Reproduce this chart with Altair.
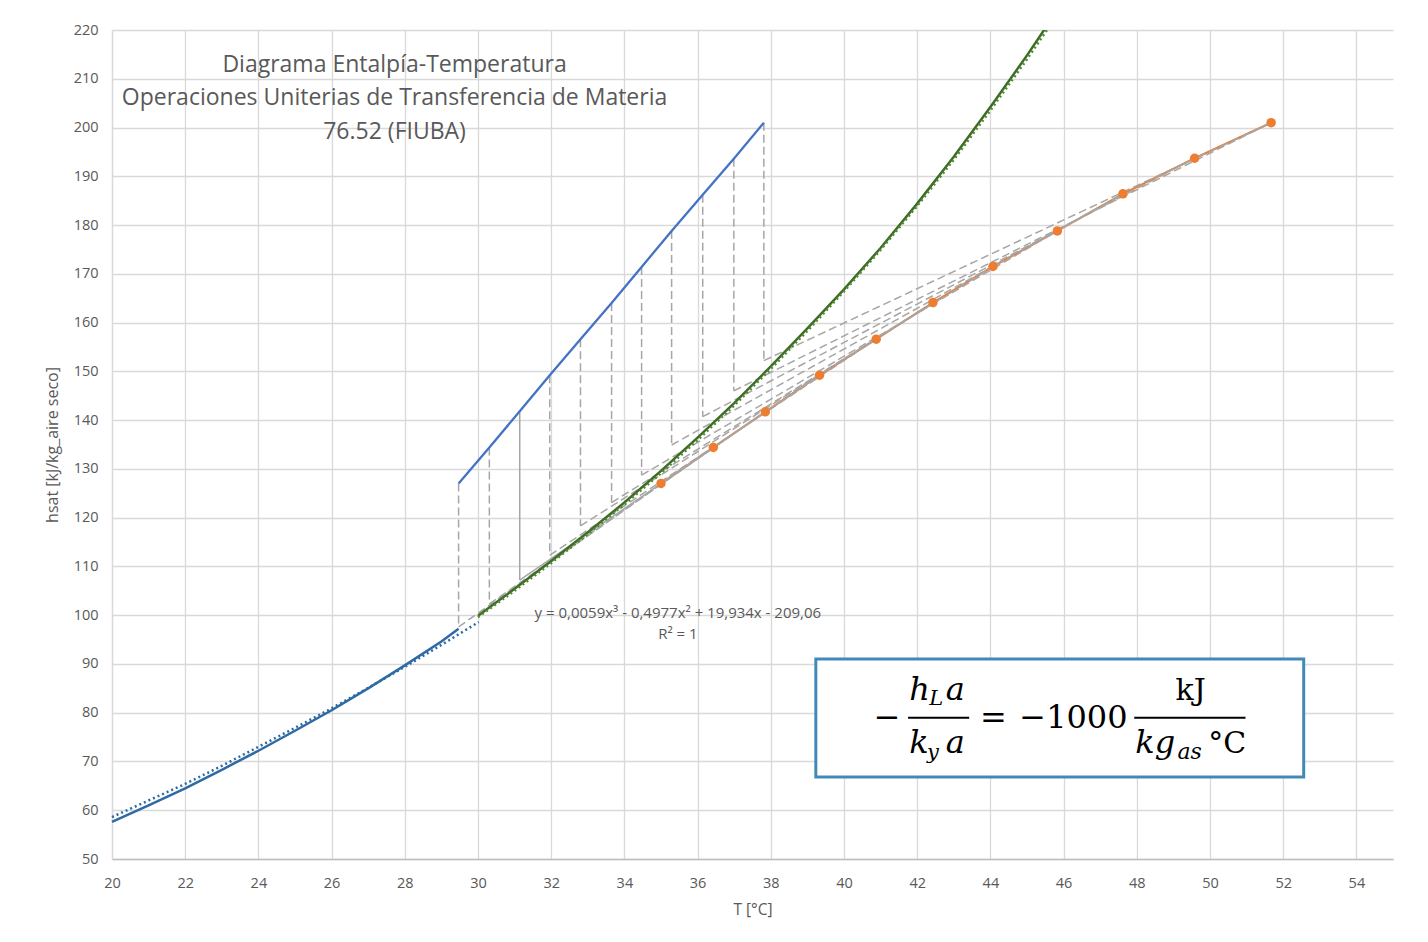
import altair as alt
import pandas as pd

# ---------------- data ----------------
# saturation curve, first part (blue)
sat_blue_T = [20, 21, 22, 23, 24, 25, 26, 27, 28, 29, 29.47]
sat_blue_H = [57.6, 61.0, 64.5, 68.3, 72.2, 76.3, 80.5, 85.0, 89.7, 94.6, 97.2]
# dotted trendline of the blue part
trend_blue_T = [20, 21, 22, 23, 24, 25, 26, 27, 28, 29, 30.02]
trend_blue_H = [58.6, 62.0, 65.4, 69.1, 73.0, 76.9, 80.9, 85.1, 89.4, 93.9, 98.6]
# saturation curve, second part (green)
sat_green_T = [30.0, 31, 32, 33, 34, 35, 36, 37, 38, 39, 40, 41, 42, 43, 44, 45, 45.7]
sat_green_H = [99.9, 105.4, 111.1, 117.0, 123.1, 129.6, 136.4, 143.5, 151.0, 158.8,
               166.8, 175.3, 184.4, 194.0, 204.2, 214.8, 222.6]
# dotted polynomial trendline of the green part
trend_green_H = [99.6, 105.0, 110.7, 116.6, 122.7, 129.1, 135.9, 143.0, 150.5, 158.3,
                 166.4, 174.9, 183.9, 193.4, 203.5, 214.0, 221.7]
# operating line (liquid temperature, enthalpy)
op_T = [29.47, 30.31, 31.14, 31.96, 32.80, 33.65, 34.47, 35.29, 36.14, 36.99, 37.81]
op_H = [127.0, 134.4, 141.8, 149.2, 156.6, 164.0, 171.4, 178.8, 186.2, 193.6, 201.0]
# lower ends of the tie lines (interface points)
int_H = [97.6, 102.3, 107.2, 112.3, 118.3, 123.1, 128.7, 134.9, 140.7, 146.0, 152.2]
# which tie lines are drawn solid
tie_solid = [False, False, True, False, False, False, False, False, False, False, False]
# gas path (orange points)
gas_T = [35.0, 36.43, 37.85, 39.33, 40.88, 42.43, 44.07, 45.83, 47.62, 49.58, 51.67]
gas_H = [127.0, 134.4, 141.7, 149.2, 156.6, 164.1, 171.5, 178.8, 186.4, 193.7, 201.0]

x_ticks = list(range(20, 56, 2))
y_ticks = list(range(50, 230, 10))

title_lines = ["Diagrama Entalpía-Temperatura",
               "Operaciones Uniterias de Transferencia de Materia",
               "76.52 (FIUBA)"]
trend_lines = ["y = 0,0059x³ - 0,4977x² + 19,934x - 209,06", "R² = 1"]

# ---------------- tables ----------------
df_blue = pd.DataFrame({"T": sat_blue_T, "H": sat_blue_H})
df_blue_tr = pd.DataFrame({"T": trend_blue_T, "H": trend_blue_H})
df_green = pd.DataFrame({"T": sat_green_T, "H": sat_green_H})
df_green_tr = pd.DataFrame({"T": sat_green_T, "H": trend_green_H})
df_op = pd.DataFrame({"T": op_T, "H": op_H})
df_gas = pd.DataFrame({"T": gas_T, "H": gas_H})
df_tie = pd.DataFrame({"T": op_T, "H": op_H, "H2": int_H, "solid": tie_solid})
n = len(op_T)
df_fan = pd.DataFrame({
    "T": op_T, "H": int_H,
    "T2": [gas_T[min(i + 1, n - 1)] for i in range(n)],
    "H2": [gas_H[min(i + 1, n - 1)] for i in range(n)],
    "solid": tie_solid,
})

GRAY_TXT = "#595959"
FONT = "Open Sans"

xs = alt.Scale(domain=[20, 55], nice=False, zero=False)
ys = alt.Scale(domain=[50, 220], nice=False, zero=False)

X = alt.X("T:Q", scale=xs, axis=alt.Axis(
    values=x_ticks, title="T [°C]", format="d", grid=True, gridColor="#D9D9D9",
    gridWidth=1.3, ticks=False, domainColor="#BFBFBF", domainWidth=1.5,
    labelFlush=False, labelFont=FONT, labelFontSize=14.5, labelColor=GRAY_TXT,
    labelPadding=17, titleFont=FONT, titleFontSize=15.5, titleFontWeight="normal",
    titleColor=GRAY_TXT, titlePadding=13))
Y = alt.Y("H:Q", scale=ys, axis=alt.Axis(
    values=y_ticks, title="hsat [kJ/kg_aire seco]", format="d", grid=True,
    gridColor="#D9D9D9", gridWidth=1.3, ticks=False, domainColor="#D9D9D9",
    domainWidth=1.3, labelFlush=False, labelFont=FONT, labelFontSize=14.5,
    labelColor=GRAY_TXT, labelPadding=14, titleFont=FONT, titleFontSize=16,
    titleFontWeight="normal", titleColor=GRAY_TXT, titlePadding=13))

layers = []

# orange gas path line (under the gray construction lines)
layers.append(alt.Chart(df_gas).mark_line(color="#ED7D31", strokeWidth=2.2).encode(x=X, y=Y))

# tie lines (vertical) and gas-path construction lines
for solid in (False, True):
    dash = [1, 0] if solid else [8, 4]
    layers.append(alt.Chart(df_tie[df_tie.solid == solid]).mark_rule(
        color="#A6A6A6", strokeWidth=1.5, strokeDash=dash).encode(
        x="T:Q", y="H:Q", y2="H2:Q"))
    layers.append(alt.Chart(df_fan[df_fan.solid == solid]).mark_rule(
        color="#A6A6A6", strokeWidth=1.5, strokeDash=dash).encode(
        x="T:Q", y="H:Q", x2="T2:Q", y2="H2:Q"))

# saturation curves and trendlines
layers.append(alt.Chart(df_blue).mark_line(color="#2E6AA3", strokeWidth=2.5).encode(x="T:Q", y="H:Q"))
layers.append(alt.Chart(df_blue_tr).mark_line(color="#2E6AA3", strokeWidth=2.5,
              strokeDash=[2, 3]).encode(x="T:Q", y="H:Q"))
layers.append(alt.Chart(df_green).mark_line(color="#3F6B27", strokeWidth=2.5, clip=True).encode(
    x="T:Q", y="H:Q"))
layers.append(alt.Chart(df_green_tr).mark_line(color="#4E8A2E", strokeWidth=2.5,
              strokeDash=[2, 3], clip=True).encode(x="T:Q", y="H:Q"))

# operating line
layers.append(alt.Chart(df_op).mark_line(color="#4472C4", strokeWidth=2.3).encode(x="T:Q", y="H:Q"))

# gas points
layers.append(alt.Chart(df_gas).mark_circle(color="#ED7D31", size=90, opacity=1).encode(
    x="T:Q", y="H:Q"))

# title inside the plot
df_title = pd.DataFrame({"T": [27.72] * 3, "H": [212.8, 206.1, 199.1], "txt": title_lines})
layers.append(alt.Chart(df_title).mark_text(font=FONT, fontSize=23, color=GRAY_TXT,
              align="center", baseline="middle").encode(x="T:Q", y="H:Q", text="txt:N"))

# trendline label
df_trend = pd.DataFrame({"T": [35.46, 35.46], "H": [100.4, 96.1], "txt": trend_lines})
layers.append(alt.Chart(df_trend).mark_text(font=FONT, fontSize=15, color=GRAY_TXT,
              align="center", baseline="middle").encode(x="T:Q", y="H:Q", text="txt:N"))

# formula box
df_box = pd.DataFrame({"T": [39.23], "T2": [52.56], "H": [91.0], "H2": [66.8]})
layers.append(alt.Chart(df_box).mark_rect(fill="white", stroke="#4389B8", strokeWidth=3).encode(
    x="T:Q", x2="T2:Q", y="H:Q", y2="H2:Q"))

df_bars = pd.DataFrame({"T": [41.75, 47.93], "T2": [43.42, 50.97], "H": [78.99, 78.99]})
layers.append(alt.Chart(df_bars).mark_rule(color="black", strokeWidth=2).encode(
    x="T:Q", x2="T2:Q", y="H:Q"))

SERIF = "DejaVu Serif"
formula = [
    # text, T, H, size, italic, align
    ("−", 41.18, 76.85, 32, False, "center"),
    ("h", 41.78, 82.6, 32, True, "left"),
    ("L", 42.33, 81.5, 21, True, "left"),
    ("a", 42.78, 82.6, 32, True, "left"),
    ("k", 41.78, 71.72, 32, True, "left"),
    ("y", 42.27, 70.6, 21, True, "left"),
    ("a", 42.78, 71.72, 32, True, "left"),
    ("=", 44.08, 76.85, 32, False, "center"),
    ("−1000", 44.79, 76.85, 32, False, "left"),
    ("kJ", 49.47, 82.6, 30, False, "center"),
    ("kg", 47.96, 71.72, 32, True, "left"),
    ("as", 49.11, 70.5, 22, True, "left"),
    ("°C", 49.95, 71.72, 30, False, "left"),
]
for txt, t, h, size, ital, al in formula:
    d = pd.DataFrame({"T": [t], "H": [h], "txt": [txt]})
    layers.append(alt.Chart(d).mark_text(
        font=SERIF, fontSize=size, fontStyle="italic" if ital else "normal",
        color="black", align=al, baseline="alphabetic").encode(
        x="T:Q", y="H:Q", text="txt:N"))

chart = alt.layer(*layers).properties(
    width=1281, height=829,
    autosize=alt.AutoSizeParams(type="none"),
    padding={"left": 104, "top": 22, "right": 20, "bottom": 68},
).configure_view(stroke=None)

chart.save("out.html", embed_options={"renderer": "svg", "actions": False})
